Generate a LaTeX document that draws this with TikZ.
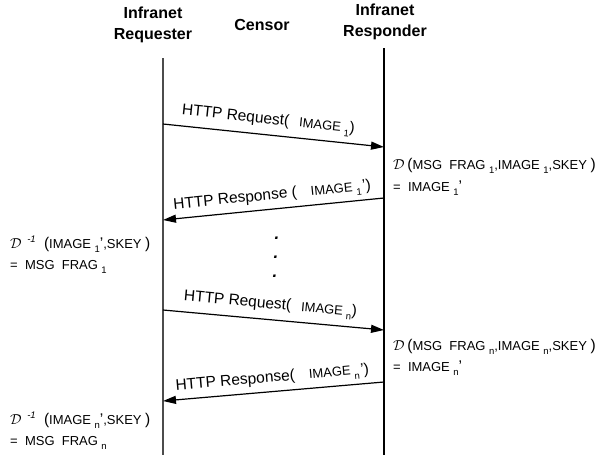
\documentclass[tikz,border=0pt]{standalone}
\usepackage{fontspec}
\setmainfont{Liberation Sans}
\usetikzlibrary{arrows.meta}
\newcommand\bigt{\fontsize{15.5}{17}\selectfont}
\newcommand\smt{\fontsize{13}{15}\selectfont}
\newcommand\subs[1]{\hspace{3.5pt}\raisebox{-4.5pt}{\fontsize{9.5}{9.5}\selectfont #1}}
\newcommand\calD{{\fontsize{15}{16}\selectfont$\mathcal{D}$}}
\newcommand\invsup{\raisebox{5.5pt}{\fontsize{9.5}{9.5}\selectfont\itshape -1}}
\begin{document}
\begin{tikzpicture}[x=1pt,y=-1pt,
  life/.style={line width=1.1pt},
  msg/.style={line width=1.2pt,-{Triangle[length=13pt,width=8pt]}},
  title/.style={font=\fontsize{16}{21}\selectfont\bfseries,align=center},
  note/.style={anchor=base west,inner sep=0pt},
  lbl/.style={sloped,above,inner sep=6pt},
  dotn/.style={font=\fontsize{17}{17}\selectfont\bfseries\itshape,inner sep=0pt}]
\useasboundingbox (0,0) rectangle (603,455);
\node[title] (treq) at (153,25) {Infranet\\Requester};
\node[title] (tcen) at (262,25) {Censor};
\node[title] (tres) at (385,22) {Infranet\\Responder};
\coordinate (lt) at (163,58);
\coordinate (lb) at (163,455);
\coordinate (rt) at (384,48);
\coordinate (rb) at (384,455);
\draw[life,black!70] (lt) -- (lb);
\draw[life] (rt) -- (rb);
% request 1
\coordinate (q1s) at (163,124);
\coordinate (q1e) at (384,147);
\draw[msg] (q1s) -- (q1e) node[lbl,pos=0.47] (q1l) {{\bigt HTTP Request(}\hspace{10pt}{\smt IMAGE}\subs{1}{\bigt )}};
\node[note] (d1a) at (393,169) {\calD\ {\bigt(}{\smt MSG\ \ FRAG}\subs{1}{\smt ,IMAGE}\subs{1}{\smt ,SKEY }{\bigt)}};
\node[note] (d1b) at (393,191) {{\smt = \ IMAGE}\subs{1}{\bigt '}};
% response 1
\coordinate (p1s) at (384,198);
\coordinate (p1e) at (163,220);
\draw[msg] (p1s) -- (p1e) node[lbl,pos=0.5,inner sep=4.5pt] (p1l) {{\bigt HTTP Response (}\hspace{14pt}{\smt IMAGE}\subs{1}\hspace{1pt}{\bigt ')}};
\node[note] (i1a) at (10,248) {\calD\ \ \invsup\ \ \ {\bigt(}{\smt IMAGE}\subs{1}{\bigt '}{\smt ,SKEY }{\bigt)}};
\node[note] (i1b) at (10,269) {{\smt = \ MSG\ \ FRAG}\subs{1}};
% dots
\node[dotn] (dot1) at (277,238) {.};
\node[dotn] (dot2) at (276,257) {.};
\node[dotn] (dot3) at (275,276) {.};
% request n
\coordinate (qns) at (163,310);
\coordinate (qne) at (384,330);
\draw[msg] (qns) -- (qne) node[lbl,pos=0.48] (qnl) {{\bigt HTTP Request(}\hspace{10pt}{\smt IMAGE}\subs{n}{\bigt )}};
\node[note] (dna) at (393,350) {\calD\ {\bigt(}{\smt MSG\ \ FRAG}\subs{n}{\smt ,IMAGE}\subs{n}{\smt ,SKEY }{\bigt)}};
\node[note] (dnb) at (393,371) {{\smt = \ IMAGE}\subs{n}{\bigt '}};
% response n
\coordinate (pns) at (384,382);
\coordinate (pne) at (163,401);
\draw[msg] (pns) -- (pne) node[lbl,pos=0.5,inner sep=4.5pt] (pnl) {{\bigt HTTP Response(}\hspace{14pt}{\smt IMAGE}\subs{n}\hspace{1pt}{\bigt ')}};
\node[note] (ina) at (10,424) {\calD\ \ \invsup\ \ \ {\bigt(}{\smt IMAGE}\subs{n}{\bigt '}{\smt ,SKEY }{\bigt)}};
\node[note] (inb) at (10,445) {{\smt = \ MSG\ \ FRAG}\subs{n}};
\end{tikzpicture}
\end{document}
